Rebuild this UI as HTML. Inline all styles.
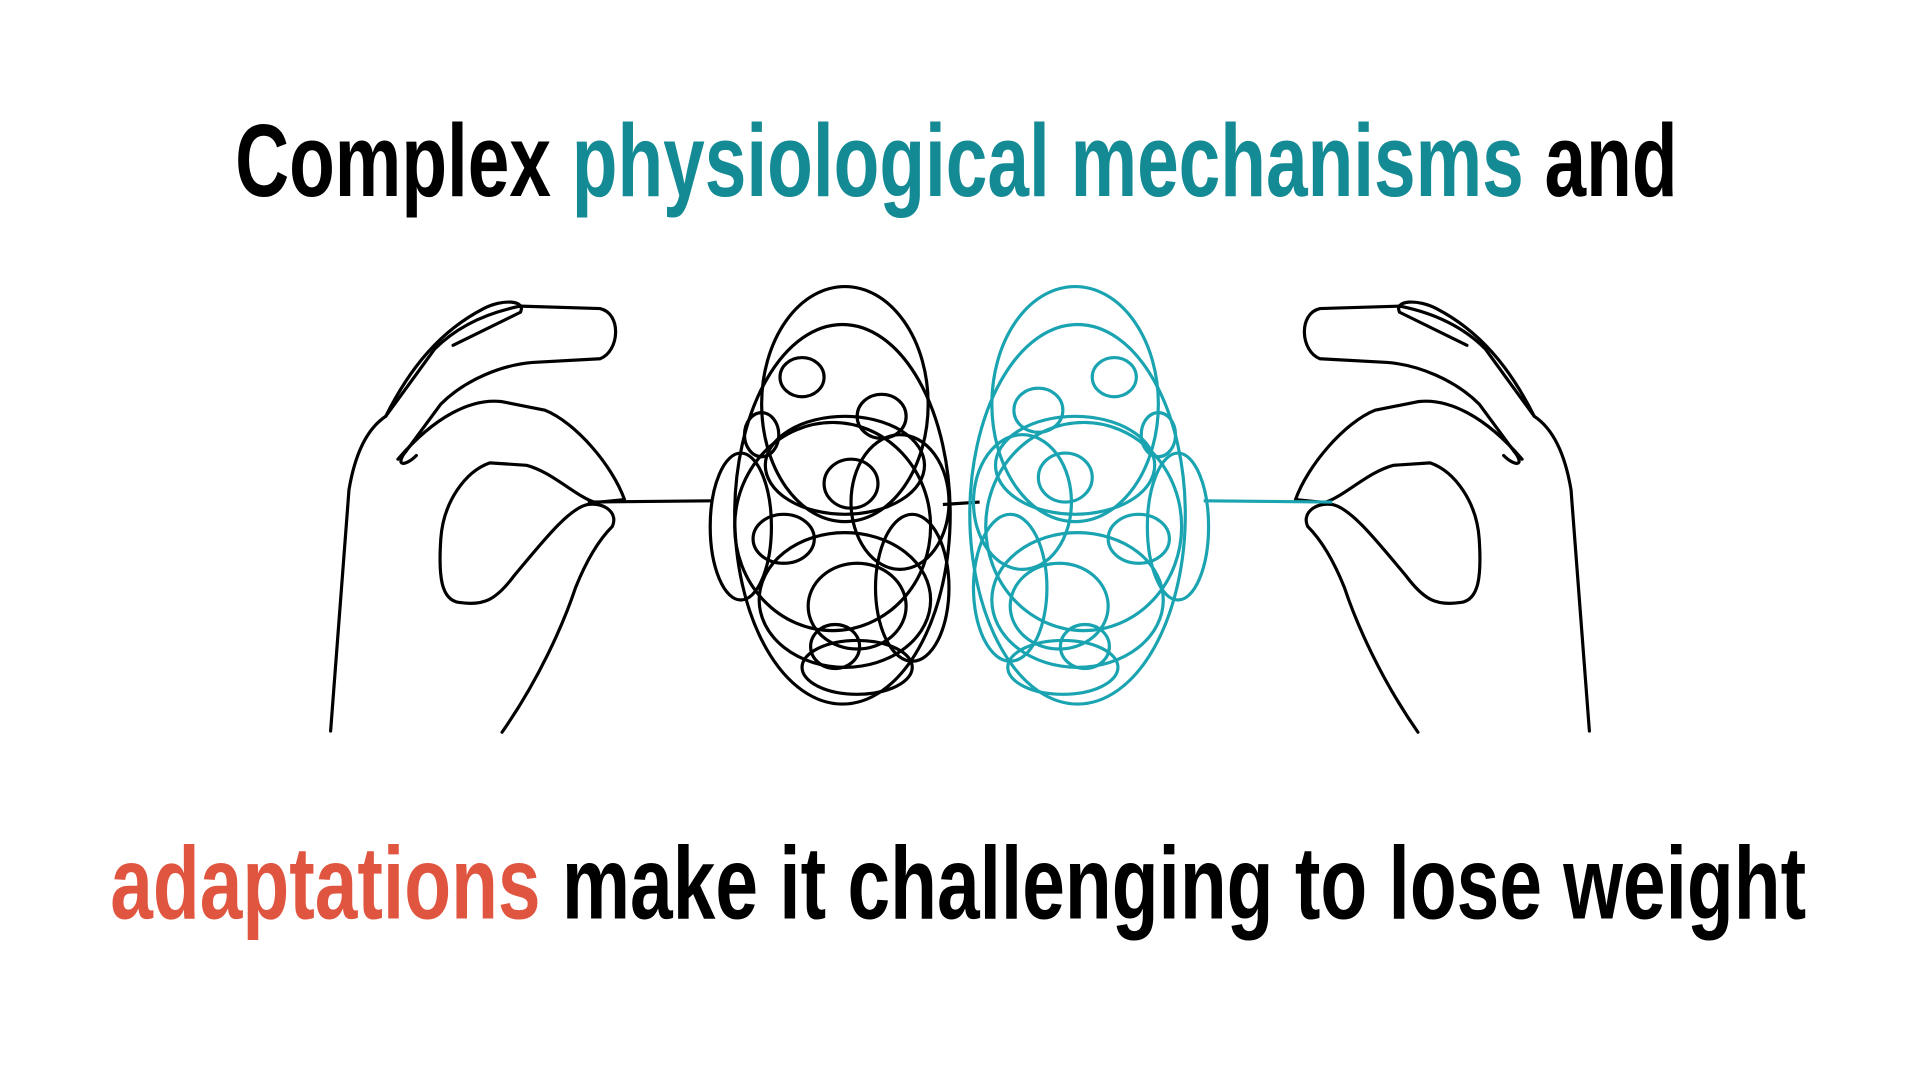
<!DOCTYPE html>
<html><head><meta charset="utf-8"><style>
html,body{margin:0;padding:0;background:#fff;width:1920px;height:1080px;overflow:hidden}
svg{display:block}
text{font-family:"Liberation Sans",sans-serif;font-weight:bold}
</style></head><body>
<svg width="1920" height="1080" viewBox="0 0 1568 882" xmlns="http://www.w3.org/2000/svg">
<text x="192" y="160" font-size="84" textLength="1178" lengthAdjust="spacingAndGlyphs" fill="#000"><tspan>Complex </tspan><tspan fill="#138a94">physiological mechanisms</tspan><tspan> and</tspan></text>
<text x="90" y="750" font-size="84" textLength="1385" lengthAdjust="spacingAndGlyphs" fill="#000"><tspan fill="#e0553f">adaptations</tspan><tspan> make it challenging to lose weight</tspan></text>

<g id="lh" fill="none" stroke="#000" stroke-width="2.6" stroke-linecap="round" stroke-linejoin="round">
<path d="M270,597 L285,400 C290,370 300,350 315,340 L355,285 C375,265 400,255 425,250 L490,252 C508,256 506,287 490,293 L435,296 C410,298 380,310 360,330 L332,368 C322,380 330,382 340,372"/>
<path d="M315,340 C335,300 360,270 395,252 C410,244 430,245 425,255 L370,282"/>
<path d="M410,598 C440,555 460,510 470,480 C480,455 490,440 500,430 C505,420 495,410 480,412 C465,415 445,440 420,470 C405,490 395,495 375,492 C360,490 358,470 360,440 C362,410 380,385 400,378 L430,380 C450,385 470,405 485,410"/>
<path d="M325,375 C355,340 385,325 410,328 L445,335 C470,345 500,380 510,408 L490,410"/>
</g>
<use href="#lh" transform="translate(1568,0) scale(-1,1)"/>
<path d="M480,410 L582,409" fill="none" stroke="#000" stroke-width="2.6"/>
<path d="M983,409 L1088,410" fill="none" stroke="#1aa3b0" stroke-width="2.6"/>
<path d="M770,412 L800,410" fill="none" stroke="#000" stroke-width="2.6"/>

<g fill="none" stroke="#000" stroke-width="2.6">
<ellipse cx="690" cy="330" rx="68" ry="96"/>
<ellipse cx="688" cy="420" rx="88" ry="155"/>
<ellipse cx="655" cy="308" rx="18" ry="16"/>
<ellipse cx="720" cy="340" rx="20" ry="18"/>
<ellipse cx="622" cy="355" rx="14" ry="18"/>
<ellipse cx="680" cy="430" rx="80" ry="85"/>
<ellipse cx="640" cy="440" rx="25" ry="20"/>
<ellipse cx="695" cy="395" rx="22" ry="20"/>
<ellipse cx="735" cy="410" rx="40" ry="55"/>
<ellipse cx="690" cy="490" rx="70" ry="55"/>
<ellipse cx="700" cy="495" rx="40" ry="35"/>
<ellipse cx="682" cy="528" rx="20" ry="18"/>
<ellipse cx="605" cy="430" rx="25" ry="60"/>
<ellipse cx="745" cy="480" rx="30" ry="60"/>
<ellipse cx="690" cy="380" rx="65" ry="40"/>
<ellipse cx="700" cy="545" rx="45" ry="22"/>
</g>
<g fill="none" stroke="#1aa3b0" stroke-width="2.6">
<ellipse cx="878" cy="330" rx="68" ry="96"/>
<ellipse cx="880" cy="420" rx="88" ry="155"/>
<ellipse cx="910" cy="308" rx="18" ry="16"/>
<ellipse cx="848" cy="335" rx="20" ry="18"/>
<ellipse cx="946" cy="355" rx="14" ry="18"/>
<ellipse cx="885" cy="430" rx="80" ry="85"/>
<ellipse cx="930" cy="440" rx="25" ry="20"/>
<ellipse cx="870" cy="390" rx="22" ry="20"/>
<ellipse cx="835" cy="410" rx="40" ry="55"/>
<ellipse cx="880" cy="490" rx="70" ry="55"/>
<ellipse cx="865" cy="495" rx="40" ry="35"/>
<ellipse cx="886" cy="528" rx="20" ry="18"/>
<ellipse cx="962" cy="430" rx="25" ry="60"/>
<ellipse cx="825" cy="480" rx="30" ry="60"/>
<ellipse cx="878" cy="380" rx="65" ry="40"/>
<ellipse cx="868" cy="545" rx="45" ry="22"/>
</g>
</svg>
</body></html>
